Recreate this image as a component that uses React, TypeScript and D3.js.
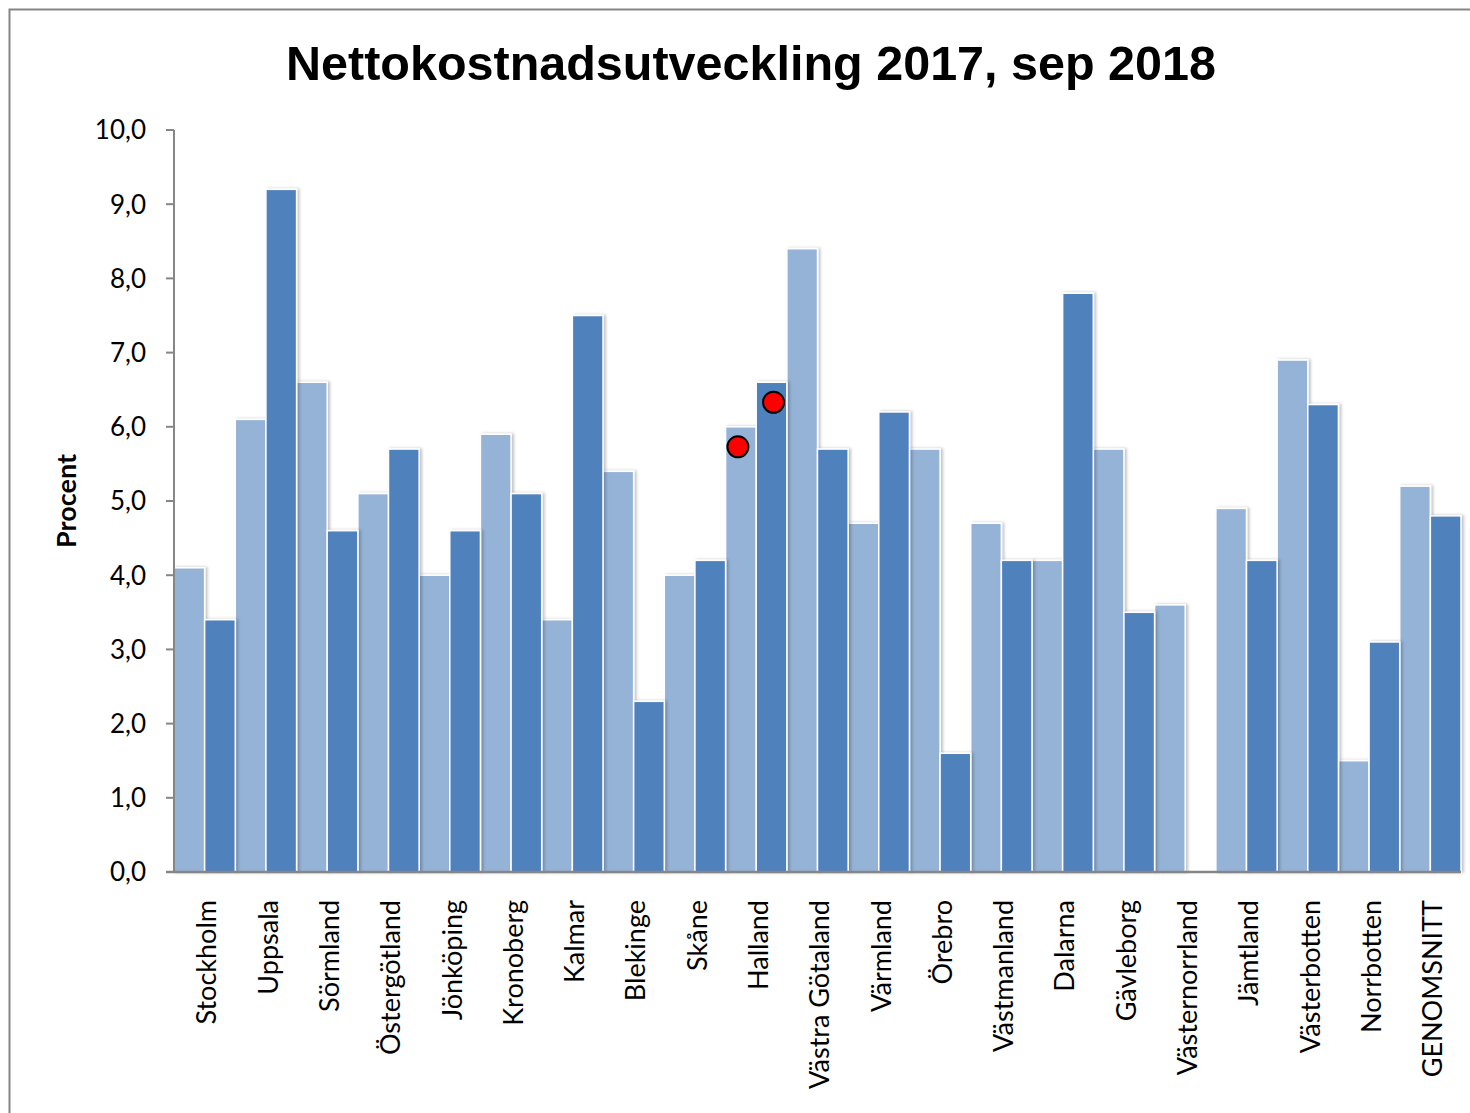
import React from "react";
import * as d3 from "d3";

const categories = [
  "Stockholm", "Uppsala", "Sörmland", "Östergötland", "Jönköping", "Kronoberg",
  "Kalmar", "Blekinge", "Skåne", "Halland", "Västra Götaland", "Värmland",
  "Örebro", "Västmanland", "Dalarna", "Gävleborg", "Västernorrland", "Jämtland",
  "Västerbotten", "Norrbotten", "GENOMSNITT",
];
const series2017 = [4.1, 6.1, 6.6, 5.1, 4.0, 5.9, 3.4, 5.4, 4.0, 6.0, 8.4, 4.7, 5.7, 4.7, 4.2, 5.7, 3.6, 4.9, 6.9, 1.5, 5.2];
const seriesSep2018: (number | null)[] = [3.4, 9.2, 4.6, 5.7, 4.6, 5.1, 7.5, 2.3, 4.2, 6.6, 5.7, 6.2, 1.6, 4.2, 7.8, 3.5, null, 4.2, 6.3, 3.1, 4.8];
const markerCategory = ["Halland", "Halland"];
const markerSeries = [0, 1];
const markerValues = [5.73, 6.33];
const yTicks = [0, 1, 2, 3, 4, 5, 6, 7, 8, 9, 10];

const W = 1470, H = 1113;
const left = 174, right = 1461, top = 130, bottom = 872;
const colors = ["#95B3D7", "#4F81BD"];
const font = "Lato, 'Open Sans', sans-serif";

export default function App() {
  const x = d3.scaleBand<string>().domain(categories).range([left, right]).paddingInner(0).paddingOuter(0);
  const sub = d3.scaleBand<number>().domain([0, 1]).range([0, x.bandwidth()]).padding(0);
  const y = d3.scaleLinear().domain([0, 10]).range([bottom, top]);
  const fmt = (v: number) => v.toFixed(1).replace(".", ",");
  const allSeries = [series2017, seriesSep2018];
  const markerShift = [-3, 2];

  return (
    <svg width={W} height={H} style={{ position: "absolute", left: 0, top: 0, background: "#fff" }}>
      <defs>
        <filter id="sh" x="-20%" y="-5%" width="150%" height="110%">
          <feDropShadow dx="2" dy="0" stdDeviation="1.5" floodColor="#000" floodOpacity="0.25" />
        </filter>
      </defs>
      <rect x={9.5} y={9.5} width={W + 20} height={H + 20} fill="#fff" stroke="#868686" strokeWidth={2} />
      <text x={751} y={80} textAnchor="middle" fontFamily="'Liberation Sans', Arial, sans-serif" fontWeight="bold" fontSize={48.5} fill="#000">
        Nettokostnadsutveckling 2017, sep 2018
      </text>
      <text transform={`translate(76,${(top + bottom) / 2}) rotate(-90)`} textAnchor="middle" fontFamily={font} fontWeight="bold" fontSize={27} fill="#000">
        Procent
      </text>
      {allSeries.map((s, si) =>
        categories.map((c, ci) => {
          const v = s[ci];
          if (v == null) return null;
          const bx = (x(c) as number) + (sub(si) as number);
          return (
            <rect key={`${si}-${ci}`} x={bx} y={y(v)} width={sub.bandwidth()} height={bottom - y(v)}
              fill={colors[si]} stroke="#fff" strokeWidth={1.5} filter="url(#sh)" />
          );
        })
      )}
      <line x1={left} x2={left} y1={top} y2={bottom} stroke="#868686" strokeWidth={2} />
      {yTicks.map((t) => (
        <g key={t}>
          <line x1={left - 8} x2={left} y1={y(t)} y2={y(t)} stroke="#868686" strokeWidth={2} />
          <text x={146} y={y(t)} dy="0.36em" textAnchor="end" fontFamily={font} fontSize={26} fill="#000">
            {fmt(t)}
          </text>
        </g>
      ))}
      <line x1={left - 8} x2={right} y1={bottom} y2={bottom} stroke="#868686" strokeWidth={2.5} />
      {categories.map((c) => {
        const cx = (x(c) as number) + x.bandwidth() / 2;
        return (
          <text key={c} transform={`translate(${cx + 2},900) rotate(-90)`} dy="0.36em" textAnchor="end"
            fontFamily={font} fontSize={27} fill="#000">
            {c}
          </text>
        );
      })}
      {markerValues.map((v, i) => {
        const c = markerCategory[i];
        const cx = (x(c) as number) + (sub(markerSeries[i]) as number) + sub.bandwidth() / 2 + markerShift[i];
        return <circle key={i} cx={cx} cy={y(v)} r={10.5} fill="#FF0000" stroke="#000" strokeWidth={2} />;
      })}
    </svg>
  );
}
